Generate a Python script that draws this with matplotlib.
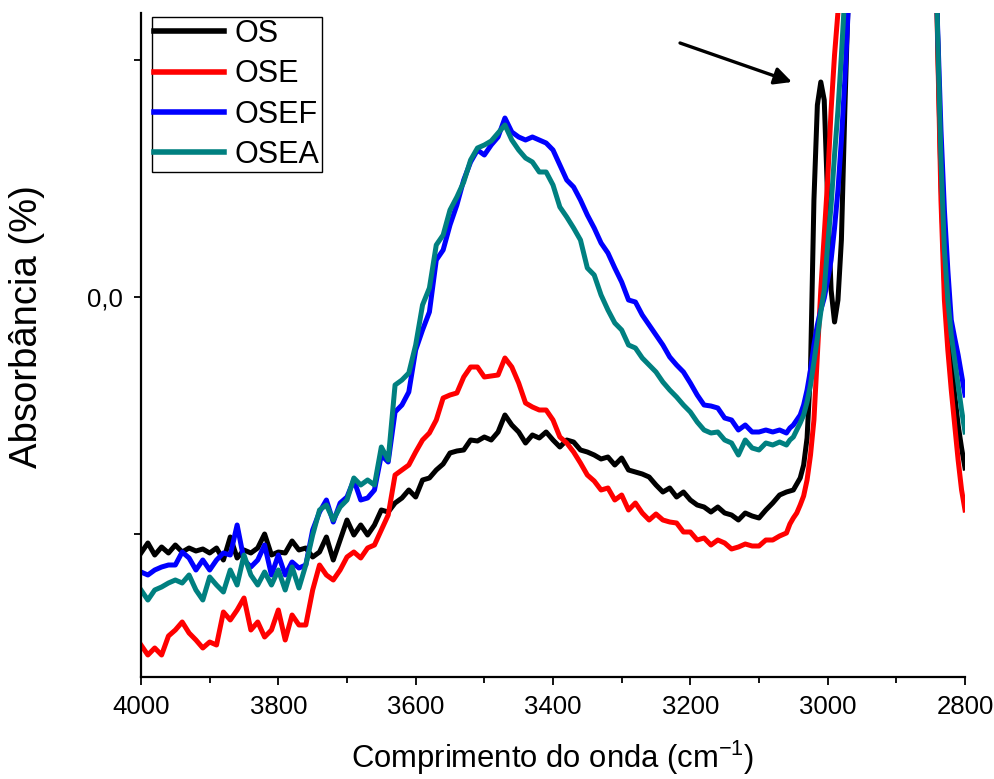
import numpy as np
import matplotlib
matplotlib.use("Agg")
import matplotlib.pyplot as plt
from matplotlib import font_manager

# ---------------- data ----------------
wavenumber = list(range(4000, 3055, -10)) + list(range(3055, 2795, -5))

os_abs = [
    -0.256, -0.246, -0.258, -0.250, -0.256, -0.248, -0.255, -0.251, -0.254, -0.252,
    -0.256, -0.251, -0.263, -0.240, -0.261, -0.253, -0.256, -0.251, -0.237, -0.258,
    -0.255, -0.256, -0.244, -0.253, -0.251, -0.260, -0.255, -0.240, -0.263, -0.243,
    -0.223, -0.238, -0.228, -0.238, -0.228, -0.213, -0.215, -0.206, -0.201, -0.193,
    -0.200, -0.183, -0.181, -0.173, -0.167, -0.156, -0.154, -0.153, -0.143, -0.144,
    -0.140, -0.143, -0.135, -0.118, -0.128, -0.135, -0.146, -0.138, -0.141, -0.135,
    -0.143, -0.150, -0.143, -0.145, -0.153, -0.155, -0.158, -0.162, -0.160, -0.168,
    -0.161, -0.173, -0.175, -0.177, -0.180, -0.188, -0.195, -0.191, -0.200, -0.195,
    -0.203, -0.208, -0.210, -0.215, -0.210, -0.216, -0.218, -0.223, -0.216, -0.219,
    -0.221, -0.213, -0.206, -0.198, -0.195,
    -0.194, -0.193, -0.187, -0.181, -0.168, -0.141, -0.073, 0.097, 0.192, 0.215,
    0.197, 0.097, 0.007, -0.025, -0.003, 0.057, 0.187, 0.302, 0.45, 0.62,
    0.80, 0.98, 1.10, 1.18, 1.22, 1.25, 1.26, 1.24, 1.18, 1.08,
    0.98, 0.90, 0.85, 0.82, 0.82, 0.84, 0.88, 0.92, 0.95, 0.96,
    0.95, 0.80, 0.45, 0.262, 0.117, 0.017, -0.033, -0.063, -0.098, -0.128,
    -0.151, -0.171,
]

ose_abs = [
    -0.348, -0.358, -0.351, -0.358, -0.339, -0.333, -0.325, -0.336, -0.343, -0.351,
    -0.345, -0.348, -0.315, -0.323, -0.313, -0.301, -0.333, -0.325, -0.340, -0.333,
    -0.313, -0.343, -0.318, -0.328, -0.328, -0.293, -0.268, -0.278, -0.283, -0.273,
    -0.260, -0.255, -0.261, -0.251, -0.248, -0.233, -0.218, -0.178, -0.173, -0.168,
    -0.155, -0.143, -0.136, -0.123, -0.101, -0.098, -0.096, -0.080, -0.070, -0.070,
    -0.080, -0.079, -0.078, -0.061, -0.070, -0.086, -0.106, -0.110, -0.113, -0.113,
    -0.123, -0.140, -0.146, -0.155, -0.166, -0.178, -0.184, -0.193, -0.191, -0.203,
    -0.198, -0.213, -0.206, -0.216, -0.223, -0.217, -0.223, -0.225, -0.226, -0.235,
    -0.235, -0.243, -0.241, -0.248, -0.243, -0.246, -0.252, -0.250, -0.247, -0.249,
    -0.249, -0.243, -0.243, -0.239, -0.236,
    -0.227, -0.221, -0.216, -0.208, -0.199, -0.183, -0.158, -0.123, -0.058, 0.007,
    0.062, 0.117, 0.187, 0.242, 0.285, 0.36, 0.45, 0.56, 0.68, 0.82,
    0.95, 1.06, 1.14, 1.20, 1.24, 1.27, 1.28, 1.26, 1.20, 1.10,
    1.00, 0.92, 0.87, 0.84, 0.84, 0.86, 0.90, 0.94, 0.97, 0.98,
    0.97, 0.82, 0.46, 0.257, 0.097, -0.003, -0.053, -0.093, -0.128, -0.163,
    -0.193, -0.213,
]

osef_abs = [
    -0.275, -0.278, -0.273, -0.270, -0.268, -0.268, -0.255, -0.261, -0.273, -0.263,
    -0.273, -0.263, -0.256, -0.258, -0.228, -0.263, -0.270, -0.263, -0.248, -0.278,
    -0.258, -0.278, -0.265, -0.271, -0.268, -0.233, -0.215, -0.203, -0.225, -0.206,
    -0.200, -0.183, -0.203, -0.201, -0.193, -0.158, -0.165, -0.115, -0.108, -0.095,
    -0.053, -0.033, -0.015, 0.037, 0.047, 0.072, 0.092, 0.117, 0.135, 0.147,
    0.142, 0.152, 0.160, 0.179, 0.165, 0.160, 0.157, 0.160, 0.157, 0.154,
    0.147, 0.132, 0.117, 0.110, 0.097, 0.082, 0.069, 0.054, 0.044, 0.029,
    0.015, -0.003, -0.005, -0.018, -0.028, -0.038, -0.048, -0.060, -0.068, -0.075,
    -0.086, -0.098, -0.108, -0.109, -0.111, -0.121, -0.123, -0.133, -0.128, -0.135,
    -0.135, -0.133, -0.135, -0.133, -0.136,
    -0.131, -0.128, -0.123, -0.118, -0.108, -0.093, -0.073, -0.048, -0.028, -0.013,
    -0.001, 0.017, 0.037, 0.069, 0.107, 0.157, 0.217, 0.287, 0.37, 0.48,
    0.62, 0.80, 0.95, 1.08, 1.16, 1.21, 1.23, 1.22, 1.16, 1.06,
    0.97, 0.89, 0.84, 0.81, 0.81, 0.83, 0.87, 0.91, 0.94, 0.95,
    0.94, 0.80, 0.46, 0.272, 0.167, 0.087, 0.027, -0.023, -0.041, -0.058,
    -0.078, -0.098,
]

osea_abs = [
    -0.293, -0.303, -0.293, -0.290, -0.286, -0.283, -0.286, -0.278, -0.293, -0.303,
    -0.280, -0.288, -0.295, -0.273, -0.288, -0.258, -0.278, -0.288, -0.275, -0.288,
    -0.273, -0.293, -0.270, -0.291, -0.268, -0.238, -0.213, -0.208, -0.223, -0.210,
    -0.203, -0.181, -0.188, -0.183, -0.188, -0.150, -0.163, -0.088, -0.083, -0.076,
    -0.048, -0.008, 0.009, 0.052, 0.062, 0.087, 0.100, 0.115, 0.137, 0.149,
    0.152, 0.156, 0.164, 0.172, 0.157, 0.147, 0.139, 0.135, 0.125, 0.125,
    0.112, 0.090, 0.080, 0.069, 0.057, 0.029, 0.022, 0.002, -0.013, -0.026,
    -0.033, -0.048, -0.051, -0.061, -0.068, -0.075, -0.085, -0.093, -0.100, -0.108,
    -0.115, -0.125, -0.133, -0.136, -0.135, -0.143, -0.146, -0.158, -0.143, -0.151,
    -0.153, -0.146, -0.148, -0.145, -0.148,
    -0.143, -0.140, -0.133, -0.126, -0.118, -0.105, -0.088, -0.065, -0.041, -0.015,
    0.007, 0.052, 0.092, 0.142, 0.187, 0.242, 0.302, 0.40, 0.50, 0.62,
    0.78, 0.95, 1.07, 1.15, 1.20, 1.23, 1.24, 1.23, 1.17, 1.07,
    0.97, 0.89, 0.84, 0.81, 0.81, 0.83, 0.87, 0.91, 0.94, 0.95,
    0.94, 0.80, 0.45, 0.267, 0.137, 0.047, -0.003, -0.038, -0.063, -0.088,
    -0.113, -0.135,
]

series_names = ["OS", "OSE", "OSEF", "OSEA"]
series_colors = ["#000000", "#ff0000", "#0000ff", "#008080"]

x_ticks = [4000, 3800, 3600, 3400, 3200, 3000, 2800]
y_ticks = [-0.237, 0.0, 0.237]
y_ticklabels = ["", "0,0", ""]

# ---------------- style ----------------
names = {f.name for f in font_manager.fontManager.ttflist}
base_font = "Liberation Sans" if "Liberation Sans" in names else "DejaVu Sans"
narrow_font = "Liberation Sans Narrow" if "Liberation Sans Narrow" in names else base_font

plt.rcParams["font.family"] = [base_font, "DejaVu Sans"]
plt.rcParams["mathtext.fontset"] = "custom"
plt.rcParams["mathtext.rm"] = base_font
plt.rcParams["mathtext.it"] = base_font + ":italic"

fig = plt.figure(figsize=(9.94, 7.79), dpi=100)
ax = fig.add_axes([141 / 994, 1 - 677 / 779, 824 / 994, 664 / 779])

for vals, name, col in zip([os_abs, ose_abs, osef_abs, osea_abs], series_names, series_colors):
    ax.plot(wavenumber, vals, color=col, lw=3.6, label=name, solid_joinstyle="round")

ax.set_xlim(4000, 2800)
ax.set_ylim(-0.380, 0.284)

for s in ["top", "right"]:
    ax.spines[s].set_visible(False)
for s in ["left", "bottom"]:
    ax.spines[s].set_linewidth(1.6)

ax.set_xticks(x_ticks)
ax.set_xticklabels([str(t) for t in x_ticks], fontfamily=narrow_font, fontsize=18.5)
ax.set_xticks(list(range(3900, 2800, -200)), minor=True)
ax.tick_params(axis="x", which="major", direction="out", length=6, width=1.3, pad=7)
ax.tick_params(axis="x", which="minor", direction="out", length=4, width=1.3)

ax.set_yticks(y_ticks)
ax.set_yticklabels(y_ticklabels, fontsize=18.5)
ax.tick_params(axis="y", which="major", direction="out", length=5, width=1.3, pad=8)

ax.set_xlabel("Comprimento do onda (cm$^{-1}$)", fontsize=22.3, labelpad=14)
ax.set_ylabel("Absorbância (%)", fontsize=27.5)
ax.yaxis.set_label_coords((45 - 141) / 824, (677 - 327) / 664)

leg = ax.legend(loc="upper left", bbox_to_anchor=(11 / 824, 1 - 4 / 664), borderaxespad=0,
                fontsize=22, handlelength=2.3, handletextpad=0.35, labelspacing=0.34,
                borderpad=0.06, fancybox=False, framealpha=1)
leg.get_frame().set_edgecolor("black")
leg.get_frame().set_linewidth(1.0)
for line in leg.get_lines():
    line.set_linewidth(4)

ax.annotate("", xy=(3052, 0.215), xytext=(3215, 0.254),
            arrowprops=dict(arrowstyle="-|>", lw=2.4, color="black", mutation_scale=26,
                            shrinkA=0, shrinkB=0))

fig.savefig("out.png", dpi=100)
